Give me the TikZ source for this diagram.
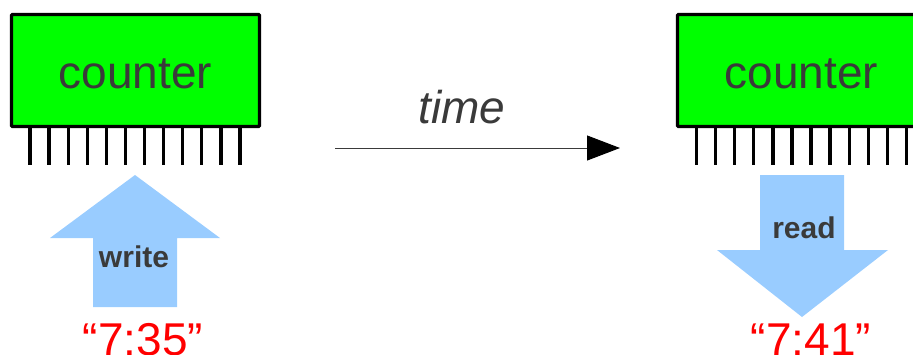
\documentclass[tikz,border=0pt]{standalone}
\usepackage{fontspec}
\setmainfont{Liberation Sans}
\usetikzlibrary{arrows.meta}
\definecolor{boxgreen}{HTML}{00FF00}
\definecolor{arrowblue}{HTML}{99CCFF}
\definecolor{txtgray}{HTML}{3A3A3A}
\definecolor{timered}{HTML}{FF0000}
\tikzset{
  counterbox/.style={draw=black, line width=3.2pt, fill=boxgreen, rounded corners=1pt,
    minimum width=248pt, minimum height=112pt, inner sep=0pt,
    text=txtgray, font=\fontsize{46}{50}\selectfont, text height=35pt, text depth=0pt},
  pin/.style={line width=3.3pt, black},
  blockarrow/.style={fill=arrowblue},
  oplabel/.style={text=txtgray, font=\fontsize{30}{34}\selectfont\bfseries, anchor=base, inner sep=0pt},
  valuelabel/.style={text=timered, font=\fontsize{46}{50}\selectfont, anchor=base, inner sep=0pt},
  timelabel/.style={text=txtgray, font=\fontsize{46}{50}\selectfont\itshape, anchor=base, inner sep=0pt},
  timeline/.style={draw=txtgray, line width=1pt, -{Triangle[length=33pt,width=25pt,fill=black,color=black]}}
}
\begin{document}
\begin{tikzpicture}[x=1pt,y=-1pt]
\useasboundingbox (0,0) rectangle (913,354);
% pins
\foreach \i in {0,...,11}{
  \draw[pin] (30+19.09*\i,128) -- (30+19.09*\i,165);
  \draw[pin] (696.5+19.09*\i,128) -- (696.5+19.09*\i,165);
}
% boxes
\node[counterbox] (leftbox) at (135.5,70.5) {counter};
\node[counterbox] (rightbox) at (801.5,70.5) {counter};
% write arrow (up)
\fill[blockarrow] (135,175) -- (220,238) -- (177,238) -- (177,307) -- (93,307) -- (93,238) -- (50,238) -- cycle;
\node[oplabel] (write) at (134,267) {write};
% read arrow (down)
\fill[blockarrow] (760,175) -- (844,175) -- (844,250) -- (888,250) -- (802,317) -- (717,250) -- (760,250) -- cycle;
\node[oplabel] (read) at (804,238) {read};
% values
\node[valuelabel] (val1) at (143,355) {“7:35”};
\node[valuelabel] (val2) at (811,355) {“7:41”};
% time
\node[timelabel] (time) at (462,123) {time};
\coordinate (t0) at (335,148);
\coordinate (t1) at (620,148);
\draw[timeline] (t0) -- (t1);
\end{tikzpicture}
\end{document}
